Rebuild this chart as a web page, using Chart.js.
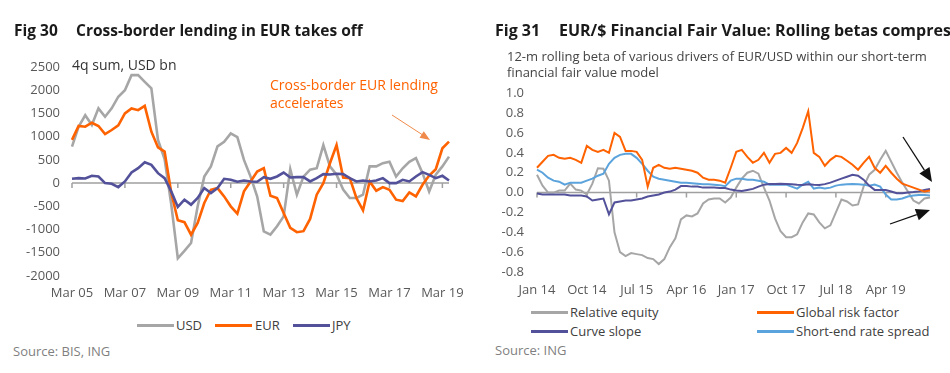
<!DOCTYPE html>
<html>
<head>
<meta charset="utf-8">
<script src="https://cdn.jsdelivr.net/npm/chart.js@4.4.0/dist/chart.umd.min.js"></script>
<style>
body { margin:0; width:950px; height:373px; position:relative; overflow:hidden; background:#fff; font-family:"Open Sans", sans-serif; }
.t { position:absolute; white-space:nowrap; }
.title { font-weight:bold; font-size:15.5px; line-height:18px; color:#1a1a1a; top:21px; }
.small { font-size:13px; line-height:16px; color:#444; }
.leg { font-size:13px; line-height:16px; color:#404040; }
.src { font-size:13px; line-height:16px; color:#7f7f7f; }
.ln { position:absolute; height:3px; }
canvas { position:absolute; top:0; }
svg { position:absolute; left:0; top:0; }
</style>
</head>
<body>
<canvas id="c1" width="475" height="301" style="left:0"></canvas>
<canvas id="c2" width="470" height="300" style="left:480px"></canvas>

<div class="t title" style="left:14px">Fig 30</div>
<div class="t title" style="left:76px">Cross-border lending in EUR takes off</div>
<div class="t title" style="left:495px;font-size:16px">Fig 31</div>
<div class="t title" style="left:559px;font-size:16px">EUR/$ Financial Fair Value: Rolling betas compress</div>

<div class="t" style="left:72px;top:56px;font-size:14px;line-height:18px;color:#333">4q sum, USD bn</div>
<div class="t" style="left:270px;top:76px;font-size:14px;line-height:18.3px;color:#ff6200">Cross-border EUR lending<br>accelerates</div>
<div class="t small" style="left:507px;top:48px">12-m rolling beta of various drivers of EUR/USD within our short-term<br>financial fair value model</div>

<div id="leg1"></div>
<div id="leg2"></div>
<div class="t src" style="left:13px;top:343px">Source: BIS, ING</div>
<div class="t src" style="left:495px;top:342px">Source: ING</div>

<svg width="950" height="373">
  <line x1="392" y1="115" x2="422" y2="134.5" stroke="#f08a4b" stroke-width="1"/>
  <polygon points="430,140 419.5,137.8 423.8,131.2" fill="#f08a4b"/>
  <line x1="903" y1="137" x2="924.4" y2="170.2" stroke="#111" stroke-width="1.3"/>
  <polygon points="932,182 919.4,173.5 929.5,167" fill="#111"/>
  <line x1="890" y1="224" x2="916.8" y2="214.6" stroke="#111" stroke-width="1.3"/>
  <polygon points="930,210 918.8,220.3 914.8,209" fill="#111"/>
</svg>

<script>
// ---- Fig 30 data (quarterly, Mar 05 - Jun 19) ----
var qMonths = ['Mar', 'Jun', 'Sep', 'Dec'];
var quarters = [];
for (var i = 0; i < 58; i++) {
    var yr = 5 + Math.floor(i / 4);
    quarters.push(qMonths[i % 4] + ' ' + (yr < 10 ? '0' + yr : yr));
}
var usd = [785, 1215, 1460, 1250, 1610, 1430, 1610, 1860, 2000, 2325,
           2325, 2180, 2040, 930, 520, -450, -1620, -1460, -1290, -500,
           140, 360, 790, 890, 1070, 990, 500, 140, -290, -1040,
           -1110, -930, -716, 300, -250, 140, 290, 320, 820, 360,
           180, -140, -320, -320, -250, 360, 360, 430, 460, 140,
           320, 460, 540, 215, -180, 180, 360, 570];
var eur = [930, 1230, 1215, 1300, 1230, 1057, 1143, 1243, 1500, 1607,
           1571, 1664, 1107, 771, 678, -200, -800, -840, -1110, -857,
           -428, -143, -107, -286, -500, -657, -178, 36, 250, 321,
           -271, -321, -643, -964, -1057, -1035, -771, -250, 0, 428,
           821, 121, 107, -321, -585, 36, -164, -86, -143, -357,
           -386, -200, -286, -36, 164, 300, 750, 893];
var jpy = [93, 107, 100, 157, 143, 0, -14, -86, 36, 228,
           321, 450, 393, 214, 107, -178, -514, -357, -464, -321,
           -107, -214, -107, 93, 71, 29, 57, 36, 29, 128,
           93, 143, 228, 121, 128, 128, 36, 107, 193, 186,
           200, 193, 107, 36, 57, 36, 57, 107, 0, 0,
           71, 36, 143, 236, 178, 107, 157, 57];

// ---- Fig 31 data (monthly, Jan 14 - Dec 19) ----
var mNames = ['Jan', 'Feb', 'Mar', 'Apr', 'May', 'Jun', 'Jul', 'Aug', 'Sep', 'Oct', 'Nov', 'Dec'];
var months = [];
for (var m = 0; m < 72; m++) months.push(mNames[m % 12] + ' ' + (14 + Math.floor(m / 12)));
var relEquity = [0.18, 0.07, 0.00, 0.00, 0.02, 0.02, 0.09, 0.03, 0.02, -0.02,
                 0.09, 0.245, 0.24, 0.12, -0.40, -0.60, -0.64, -0.61, -0.62, -0.63,
                 -0.66, -0.67, -0.72, -0.67, -0.55, -0.46, -0.27, -0.23, -0.24, -0.21,
                 -0.11, -0.07, -0.06, -0.06, -0.10, -0.05, 0.05, 0.14, 0.20, 0.22,
                 0.19, 0.05, -0.08, -0.26, -0.39, -0.45, -0.45, -0.42, -0.30, -0.21,
                 -0.22, -0.30, -0.36, -0.33, -0.20, -0.07, -0.09, -0.13, -0.12, 0.06,
                 0.18, 0.23, 0.33, 0.42, 0.31, 0.20, 0.10, 0.01, -0.08, -0.11,
                 -0.06, -0.05];
var riskFactor = [0.25, 0.31, 0.37, 0.38, 0.35, 0.34, 0.35, 0.33, 0.30, 0.47,
                  0.43, 0.41, 0.43, 0.40, 0.60, 0.56, 0.42, 0.42, 0.41, 0.33,
                  0.06, 0.25, 0.28, 0.25, 0.24, 0.25, 0.24, 0.23, 0.22, 0.20,
                  0.15, 0.13, 0.13, 0.12, 0.10, 0.25, 0.41, 0.43, 0.36, 0.30,
                  0.33, 0.40, 0.30, 0.39, 0.40, 0.45, 0.40, 0.50, 0.65, 0.82,
                  0.40, 0.36, 0.27, 0.33, 0.37, 0.36, 0.32, 0.28, 0.23, 0.30,
                  0.36, 0.25, 0.20, 0.27, 0.20, 0.14, 0.09, 0.07, 0.05, 0.03,
                  0.01, 0.02];
var curveSlope = [-0.01, -0.02, -0.02, -0.02, -0.02, -0.02, -0.03, -0.03, -0.03, -0.04,
                  -0.08, -0.07, -0.06, -0.22, -0.10, -0.09, -0.08, -0.08, -0.07, -0.06,
                  -0.04, -0.03, -0.02, 0.00, 0.01, 0.03, 0.065, 0.065, 0.06, 0.06,
                  0.05, 0.05, 0.05, 0.045, 0.045, 0.03, 0.02, 0.017, 0.027, 0.037,
                  0.06, 0.08, 0.087, 0.087, 0.09, 0.087, 0.085, 0.08, 0.077, 0.085,
                  0.08, 0.077, 0.085, 0.10, 0.12, 0.14, 0.16, 0.18, 0.17, 0.13,
                  0.07, 0.027, 0.027, 0.025, 0.01, -0.007, -0.007, 0.0, 0.005, 0.012,
                  0.025, 0.037];
var rateSpread = [0.23, 0.20, 0.15, 0.12, 0.11, 0.08, 0.10, 0.10, 0.10, 0.12,
                  0.14, 0.17, 0.19, 0.29, 0.35, 0.38, 0.39, 0.39, 0.35, 0.29,
                  0.22, 0.16, 0.14, 0.13, 0.12, 0.11, 0.10, 0.10, 0.095, 0.09,
                  0.085, 0.085, 0.08, 0.075, 0.065, 0.12, 0.14, 0.14, 0.13, 0.13,
                  0.12, 0.11, 0.08, 0.08, 0.08, 0.08, 0.06, 0.04, 0.08, 0.11,
                  0.04, 0.05, 0.04, 0.05, 0.07, 0.08, 0.085, 0.087, 0.085, 0.08,
                  0.07, 0.08, 0.06, -0.02, -0.07, -0.07, -0.06, -0.04, -0.03, -0.025,
                  -0.025, -0.03];

var GRAY = '#a6a6a6', ORANGE = '#ff6200', PURPLE = '#525199', BLUE = '#5ba3dc';
var TICK = '#595959';

Chart.defaults.font.family = '"Open Sans", sans-serif';
Chart.defaults.font.size = 13;
Chart.defaults.color = TICK;

// zero line with small tick marks, like the excel category axis
var zeroAxis = {
    id: 'zeroAxis',
    beforeDatasetsDraw: function(chart, args, opts) {
        var ctx = chart.ctx, a = chart.chartArea, x = chart.scales.x, y = chart.scales.y;
        var y0 = y.getPixelForValue(0);
        ctx.save();
        ctx.strokeStyle = '#a0a0a0';
        ctx.lineWidth = 1.5;
        ctx.beginPath();
        ctx.moveTo(a.left, y0);
        ctx.lineTo(a.right, y0);
        for (var i = 0; i < x.ticks.length; i += opts.every) {
            var px = x.getPixelForTick(i);
            ctx.moveTo(px, y0);
            ctx.lineTo(px, y0 + 5);
        }
        ctx.stroke();
        ctx.restore();
    }
};

function ds(label, data, color, order, width) {
    return { label: label, data: data, borderColor: color, backgroundColor: color,
             borderWidth: width, pointRadius: 0, tension: 0, order: order };
}

var chart1 = new Chart(document.getElementById('c1'), {
    type: 'line',
    data: {
        labels: quarters,
        datasets: [
            ds('USD', usd, GRAY, 3, 2.6),
            ds('EUR', eur, ORANGE, 2, 2.6),
            ds('JPY', jpy, PURPLE, 1, 2.6)
        ]
    },
    options: {
        responsive: false,
        animation: false,
        layout: { padding: { top: 67, right: 26, left: 0, bottom: 0 } },
        plugins: { legend: { display: false }, tooltip: { enabled: false }, zeroAxis: { every: 8 } },
        scales: {
            x: {
                offset: false,
                grid: { display: false, drawTicks: false },
                border: { display: false },
                ticks: {
                    autoSkip: false, maxRotation: 0, padding: 9,
                    callback: function(v, i) { return i % 8 === 0 ? quarters[i] : ''; }
                },
                afterFit: function(s) { s.height = 25; }
            },
            y: {
                min: -2000, max: 2500,
                grid: { display: false, drawTicks: false },
                border: { display: false },
                ticks: { stepSize: 500, padding: 12, callback: function(v) { return String(v); } },
                afterFit: function(s) { s.width = 72; }
            }
        }
    },
    plugins: [zeroAxis]
});

var chart2 = new Chart(document.getElementById('c2'), {
    type: 'line',
    data: {
        labels: months,
        datasets: [
            ds('Relative equity', relEquity, GRAY, 4, 2),
            ds('Global risk factor', riskFactor, ORANGE, 1, 2),
            ds('Curve slope', curveSlope, PURPLE, 2, 2),
            ds('Short-end rate spread', rateSpread, BLUE, 3, 2)
        ]
    },
    options: {
        responsive: false,
        animation: false,
        layout: { padding: { top: 93.3, right: 20, left: 0, bottom: 0 } },
        plugins: { legend: { display: false }, tooltip: { enabled: false }, zeroAxis: { every: 9 } },
        scales: {
            x: {
                offset: false,
                grid: { display: false, drawTicks: false },
                border: { display: false },
                ticks: {
                    autoSkip: false, maxRotation: 0, padding: 10,
                    callback: function(v, i) { return i % 9 === 0 ? months[i] : ''; }
                },
                afterFit: function(s) { s.height = 28; }
            },
            y: {
                min: -0.8, max: 1.0,
                grid: { display: false, drawTicks: false },
                border: { display: false },
                ticks: { stepSize: 0.2, padding: 13, callback: function(v) { return v.toFixed(1); } },
                afterFit: function(s) { s.width = 57; }
            }
        }
    },
    plugins: [zeroAxis]
});

// html legends, laid out like the excel originals
function legend(el, chart, spots) {
    var html = '';
    chart.data.datasets.forEach(function(d, k) {
        var p = spots[k];
        html += '<div class="ln" style="left:' + p[0] + 'px;top:' + (p[2] - 1.5) + 'px;width:37px;background:' + d.borderColor + '"></div>';
        html += '<div class="t leg" style="left:' + p[1] + 'px;top:' + (p[2] - 8.5) + 'px">' + d.label + '</div>';
    });
    document.getElementById(el).innerHTML = html;
}
legend('leg1', chart1, [[137, 176, 325.5], [215, 255, 325.5], [293, 332, 325.5]]);
legend('leg2', chart2, [[531, 570, 312.3], [757, 796, 312.3], [531, 570, 331.7], [757, 796, 331.7]]);
</script>
</body>
</html>
